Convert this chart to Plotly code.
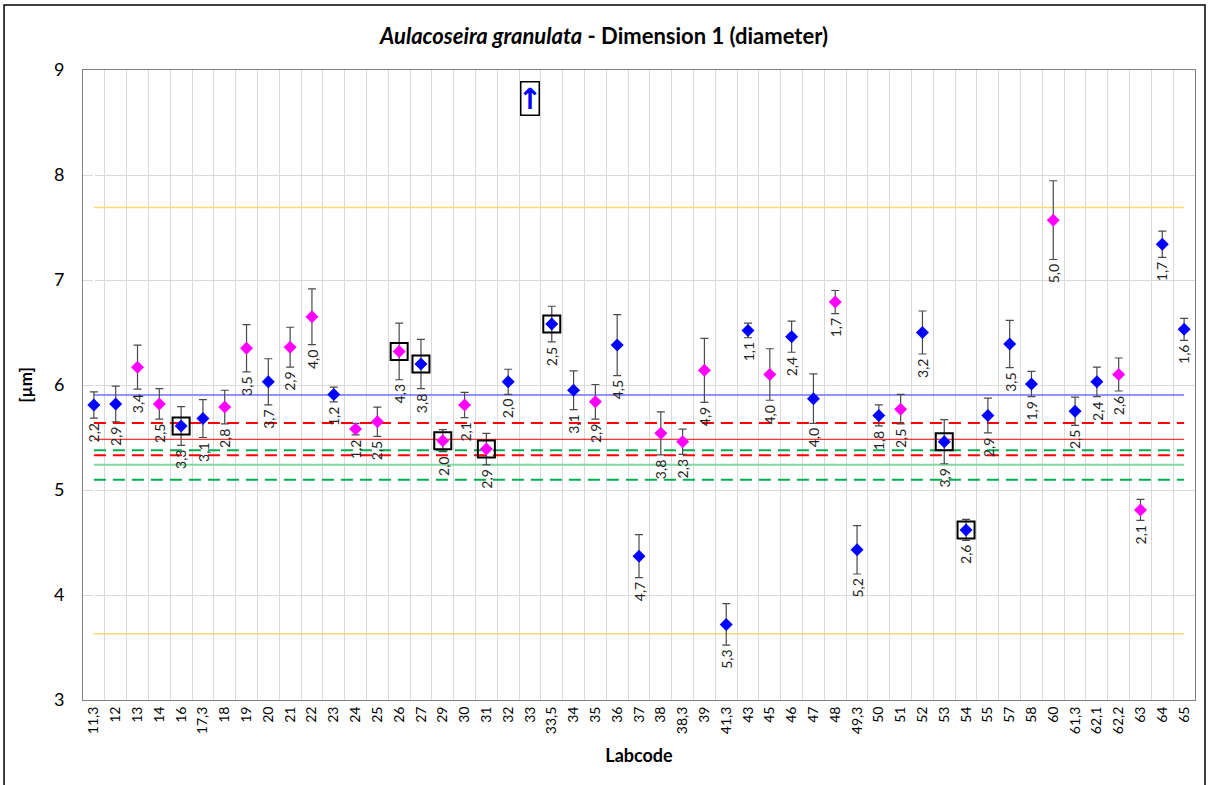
import plotly.graph_objects as go

labs = ["11,3", "12", "13", "14", "16", "17,3", "18", "19", "20", "21", "22", "23", "24", "25",
        "26", "27", "29", "30", "31", "32", "33", "33,5", "34", "35", "36", "37", "38", "38,3",
        "39", "41,3", "43", "45", "46", "47", "48", "49,3", "50", "51", "52", "53", "54", "55",
        "57", "58", "60", "61,3", "62,1", "62,2", "63", "64", "65"]

means = [5.81, 5.82, 6.17, 5.82, 5.61, 5.68, 5.79, 6.35, 6.03, 6.36, 6.65, 5.91, 5.58, 5.65,
         6.32, 6.20, 5.47, 5.81, 5.39, 6.03, None, 6.58, 5.95, 5.84, 6.38, 4.37, 5.54, 5.46,
         6.14, 3.72, 6.52, 6.10, 6.46, 5.87, 6.79, 4.43, 5.71, 5.77, 6.50, 5.46, 4.62, 5.71,
         6.39, 6.01, 7.57, 5.75, 6.03, 6.10, 4.81, 7.34, 6.53]

sds = [0.125, 0.17, 0.21, 0.145, 0.185, 0.18, 0.16, 0.225, 0.22, 0.19, 0.265, 0.07, 0.055, 0.14,
       0.27, 0.235, 0.105, 0.12, 0.15, 0.12, None, 0.17, 0.185, 0.165, 0.29, 0.205, 0.205, 0.12,
       0.305, 0.197, 0.07, 0.245, 0.148, 0.235, 0.11, 0.23, 0.10, 0.14, 0.205, 0.21, 0.10, 0.165,
       0.225, 0.12, 0.375, 0.135, 0.14, 0.157, 0.10, 0.125, 0.105]

cv_labels = ["2,2", "2,9", "3,4", "2,5", "3,3", "3,1", "2,8", "3,5", "3,7", "2,9", "4,0", "1,2", "1,2", "2,5",
             "4,3", "3,8", "2,0", "2,1", "2,9", "2,0", "", "2,5", "3,1", "2,9", "4,5", "4,7", "3,8", "2,3",
             "4,9", "5,3", "1,1", "4,0", "2,4", "4,0", "1,7", "5,2", "1,8", "2,5", "3,2", "3,9", "2,6", "2,9",
             "3,5", "1,9", "5,0", "2,5", "2,4", "2,6", "2,1", "1,7", "1,6"]

# b = blue, m = magenta
groups = ["b", "b", "m", "m", "b", "b", "m", "m", "b", "m", "m", "b", "m", "m",
          "m", "b", "m", "m", "m", "b", "b", "b", "b", "m", "b", "b", "m", "m",
          "m", "b", "b", "m", "b", "b", "m", "b", "b", "m", "b", "b", "b", "b",
          "b", "b", "m", "b", "b", "m", "m", "b", "b"]

boxed = ["16", "26", "27", "29", "31", "33,5", "53", "54"]
off_scale = ["33"]

ref_values = {
    "upper limit": 7.69,
    "lower limit": 3.63,
    "mean": 5.905,
    "upper dashed red": 5.638,
    "median": 5.483,
    "upper dashed green": 5.378,
    "lower dashed red": 5.330,
    "robust mean": 5.241,
    "lower dashed green": 5.098,
}
ref_styles = {
    "upper limit": dict(color="#FFD970", width=1.5),
    "lower limit": dict(color="#FFD970", width=1.5),
    "mean": dict(color="#6F6FFF", width=1.5),
    "upper dashed red": dict(color="#FF0000", width=2, dash="12px,7px"),
    "median": dict(color="#FF0000", width=1),
    "upper dashed green": dict(color="#00B050", width=2, dash="12px,7px"),
    "lower dashed red": dict(color="#FF0000", width=2, dash="12px,7px"),
    "robust mean": dict(color="#80D8A0", width=2),
    "lower dashed green": dict(color="#00B050", width=2, dash="12px,7px"),
}

y_range = [3, 9]
font = "Lato"
idx = list(range(len(labs)))

fig = go.Figure()

for name, val in ref_values.items():
    fig.add_trace(go.Scatter(x=[idx[0], idx[-1]], y=[val, val], mode="lines",
                             line=ref_styles[name], hoverinfo="skip", showlegend=False))

for g, col in [("b", "#0000FF"), ("m", "#FF00FF")]:
    ys = [m if gr == g else None for m, gr in zip(means, groups)]
    es = [s if gr == g else None for s, gr in zip(sds, groups)]
    fig.add_trace(go.Scatter(
        x=idx, y=ys, mode="markers",
        marker=dict(symbol="diamond", size=10, color=col),
        error_y=dict(type="data", array=es, visible=True, color="#4a4a4a", thickness=1.2, width=4),
        showlegend=False))

bx = [i for i, l in zip(idx, labs) if l in boxed]
by = [means[i] for i in bx]
fig.add_trace(go.Scatter(x=bx, y=by, mode="markers",
                         marker=dict(symbol="square-open", size=17, color="black", line=dict(width=2)),
                         showlegend=False, hoverinfo="skip"))

annotations = []
for i, m, s, t in zip(idx, means, sds, cv_labels):
    if m is None or not t:
        continue
    annotations.append(dict(x=i, y=m - s, text=t, showarrow=False, textangle=-90,
                            yanchor="top", xanchor="center", yshift=-3,
                            font=dict(family=font, size=14, color="#222")))

for l in off_scale:
    annotations.append(dict(x=labs.index(l), y=y_range[1] - 0.27, text="<b>↑</b>", showarrow=False,
                            font=dict(family="DejaVu Sans", size=29, color="#0000FF"),
                            bordercolor="black", borderwidth=1.5, borderpad=0,
                            width=17, height=32))

annotations.append(dict(xref="paper", yref="paper", x=0.4685, y=1.0, yanchor="middle", yshift=35,
                        showarrow=False,
                        text="<b><i>Aulacoseira granulata</i> - Dimension 1 (diameter)</b>",
                        font=dict(family=font, size=22, color="black")))

fig.update_layout(
    width=1208, height=785,
    margin=dict(l=83, r=13, t=70, b=85),
    paper_bgcolor="white", plot_bgcolor="white",
    font=dict(family=font, color="black"),
    annotations=annotations,
    shapes=[dict(type="rect", xref="paper", yref="paper", x0=-0.071, x1=1.009, y0=-0.15, y1=1.103,
                 line=dict(color="black", width=1.5), layer="below")],
)
fig.update_xaxes(range=[-0.5, len(labs) - 0.5], tickmode="array", tickvals=idx, ticktext=labs,
                 tickangle=-90, tickfont=dict(size=14),
                 showgrid=False, showline=True, mirror=True,
                 linecolor="#808080", linewidth=1, ticks="",
                 minor=dict(tickmode="array", tickvals=[i + 0.5 for i in idx[:-1]],
                            showgrid=True, gridcolor="#D9D9D9", ticks=""),
                 title=dict(text="<b>Labcode</b>", font=dict(size=18), standoff=16))
fig.update_yaxes(range=y_range, dtick=1, tickfont=dict(size=18), ticklabelstandoff=14,
                 showgrid=True, gridcolor="#D9D9D9", showline=True, mirror=True,
                 linecolor="#808080", linewidth=1, zeroline=False, ticks="",
                 title=dict(text="<b>[µm]</b>", font=dict(size=17), standoff=16))

fig.write_html("out.html", config={"displayModeBar": False},
               post_script="document.body.style.margin='0';")
